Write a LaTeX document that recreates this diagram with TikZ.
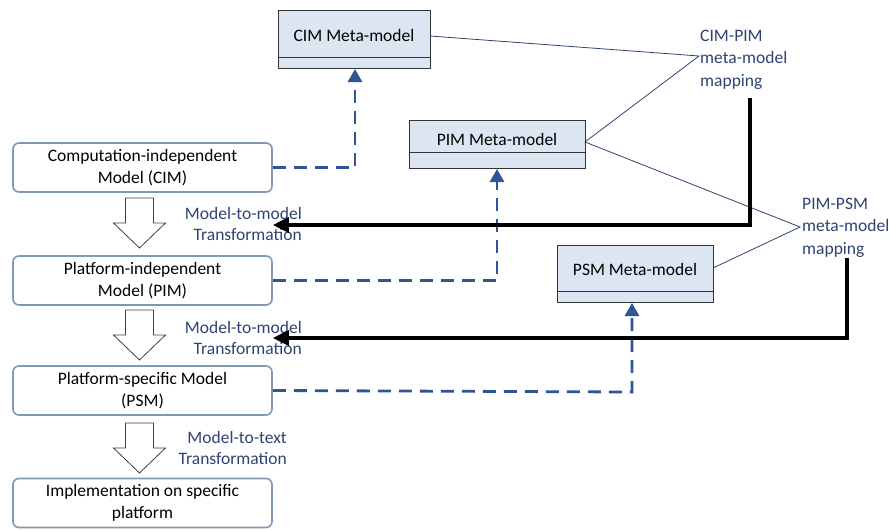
\documentclass[tikz,border=0pt]{standalone}
\usepackage{fontspec}
\setmainfont{Carlito}
\usetikzlibrary{arrows.meta}
\definecolor{boxborder}{HTML}{8497B0}
\definecolor{metafill}{HTML}{DCE6F2}
\definecolor{dashblue}{HTML}{2F5597}
\definecolor{labelblue}{HTML}{2E4372}
\newcommand{\hollowarrow}[2]{% #1 = x centre, #2 = y top
  \draw[black!75,line width=0.8pt,fill=white]
    (#1-14,#2) -- (#1+14,#2) -- (#1+14,#2+25) -- (#1+26,#2+25) -- (#1,#2+50)
    -- (#1-26,#2+25) -- (#1-14,#2+25) -- cycle;}
\begin{document}
\begin{tikzpicture}[x=1pt,y=-1pt,
  modelbox/.style={draw=boxborder,line width=1.6pt,rounded corners=6pt,fill=white,minimum width=259pt,minimum height=49pt,align=center,font=\fontsize{17.5}{22}\selectfont,inner sep=0pt},
  metabox/.style={draw=black!80,line width=0.8pt,fill=metafill},
  metatext/.style={font=\fontsize{17.5}{22}\selectfont,inner sep=0pt,anchor=base},
  translabel/.style={text=labelblue,align=right,font=\fontsize{17.5}{21}\selectfont,inner sep=0pt,anchor=base east},
  maplabel/.style={text=labelblue,align=left,font=\fontsize{17.5}{22.5}\selectfont,inner sep=0pt,anchor=base west},
  dashconn/.style={draw=dashblue,line width=2.8pt,dash pattern=on 13pt off 8pt,-{Triangle[length=13pt,width=14pt]}},
  thinconn/.style={draw=labelblue,line width=0.8pt},
  blackconn/.style={draw=black,line width=3.5pt,-{Triangle[length=16pt,width=15pt]}}
]
\useasboundingbox (0,0) rectangle (890,530);
% left model boxes
\node[modelbox] (cim) at (142.5,167.5) {Computation-independent\\Model (CIM)};
\node[modelbox] (pim) at (142.5,280.5) {Platform-independent\\Model (PIM)};
\node[modelbox] (psm) at (142.5,390.5) {Platform-specific Model\\(PSM)};
\node[modelbox] (impl) at (142.5,503) {Implementation on specific\\platform};
% hollow arrows
\hollowarrow{139.5}{198}
\hollowarrow{139.5}{310}
\hollowarrow{139.5}{423}
% transformation labels (anchor = baseline of last line)
\node[translabel] (t1) at (302,240) {Model-to-model\\Transformation};
\node[translabel] (t2) at (302,354) {Model-to-model\\Transformation};
\node[translabel] (t3) at (287,464) {Model-to-text\\Transformation};
% meta-model boxes
\draw[metabox] (278,10) rectangle (430,68);
\draw[black!80,line width=0.8pt] (278,57) -- (430,57);
\node[metatext] (cimm) at (354,41) {CIM Meta-model};
\coordinate (cimmB) at (355,69);
\coordinate (cimmR) at (430,36);
\draw[metabox] (409,120) rectangle (585,168);
\draw[black!80,line width=0.8pt] (409,152) -- (585,152);
\node[metatext] (pimm) at (497,145) {PIM Meta-model};
\coordinate (pimmB) at (497,169);
\coordinate (pimmR) at (585,142);
\draw[metabox] (557,245) rectangle (713,302);
\draw[black!80,line width=0.8pt] (557,291) -- (713,291);
\node[metatext] (psmm) at (635,275) {PSM Meta-model};
\coordinate (psmmB) at (632,303);
\coordinate (psmmR) at (713,268);
% mapping labels (anchor = baseline of last line)
\node[maplabel] (map1) at (700,86) {CIM-PIM\\meta-model\\mapping};
\node[maplabel] (map2) at (802,254) {PIM-PSM\\meta-model\\mapping};
\coordinate (m1) at (699,56);
\coordinate (m2) at (800,227);
% thin mapping lines
\draw[thinconn] (cimmR) -- (m1) -- (pimmR) -- (m2) -- (psmmR);
% dashed conformance arrows
\draw[dashconn] (cim.east) -- (355,167.5) -- (cimmB);
\draw[dashconn] (pim.east) -- (497,280.5) -- (pimmB);
\draw[dashconn] (psm.east) -- (632,392) -- (psmmB);
% black transformation arrows
\coordinate (b1s) at (750,98);
\coordinate (b2s) at (847,258);
\draw[blackconn] (b1s) -- (750,225) -- (cim.east |- 0,225);
\draw[blackconn] (b2s) -- (847,338) -- (cim.east |- 0,338);
\end{tikzpicture}
\end{document}
